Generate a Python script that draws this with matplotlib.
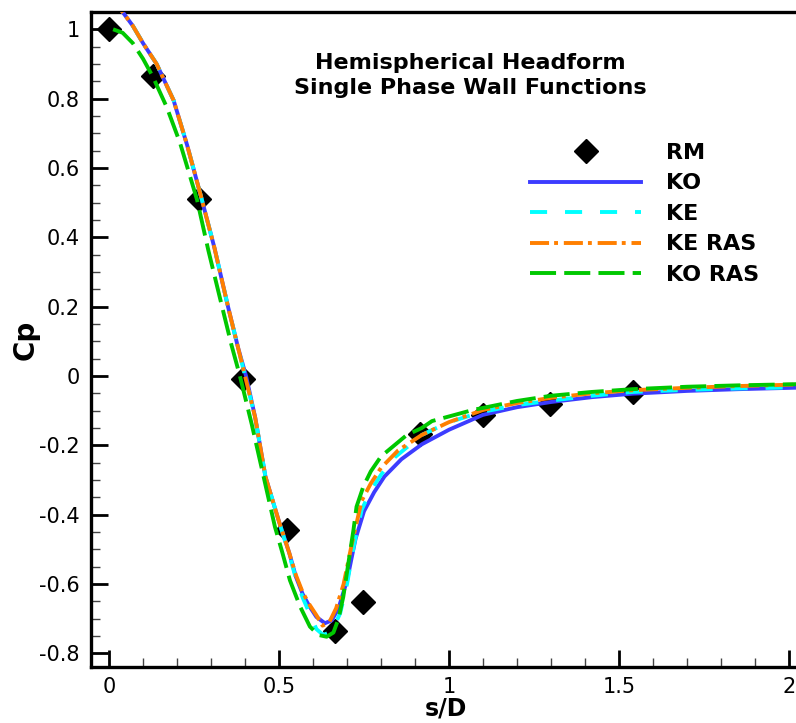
import matplotlib
matplotlib.use("Agg")
import matplotlib.pyplot as plt
from matplotlib.ticker import MultipleLocator

plt.rcParams['font.family'] = ['DejaVu Sans']

# Experimental data (RM)
rm_x = [0.0, 0.129, 0.265, 0.394, 0.524, 0.666, 0.748, 0.915, 1.101, 1.296, 1.540]
rm_cp = [1.0, 0.865, 0.51, -0.009, -0.443, -0.736, -0.651, -0.168, -0.112, -0.080, -0.047]

# KO
ko_x = [0.00, 0.02, 0.04, 0.07, 0.10, 0.14, 0.19, 0.23, 0.27, 0.31, 0.35, 0.38, 0.403, 0.43,
        0.46, 0.50, 0.53, 0.55, 0.57, 0.59, 0.61, 0.635, 0.655, 0.675, 0.70, 0.725, 0.75, 0.78,
        0.81, 0.86, 0.92, 1.00, 1.10, 1.20, 1.30, 1.42, 1.54, 1.70, 1.85, 2.05]
ko_cp = [1.09, 1.075, 1.05, 1.01, 0.96, 0.90, 0.795, 0.665, 0.52, 0.37, 0.20, 0.08, 0.0, -0.12,
         -0.29, -0.42, -0.51, -0.58, -0.63, -0.665, -0.695, -0.713, -0.705, -0.67, -0.59, -0.47,
         -0.39, -0.335, -0.29, -0.24, -0.197, -0.155, -0.112, -0.09, -0.075, -0.061, -0.051,
         -0.043, -0.038, -0.033]

# KE
ke_x = [0.00, 0.02, 0.04, 0.07, 0.10, 0.14, 0.19, 0.23, 0.27, 0.31, 0.35, 0.38, 0.40, 0.43,
        0.46, 0.50, 0.53, 0.55, 0.57, 0.59, 0.61, 0.63, 0.655, 0.68, 0.70, 0.72, 0.743, 0.77,
        0.80, 0.84, 0.92, 1.00, 1.10, 1.20, 1.30, 1.42, 1.54, 1.70, 1.85, 2.05]
ke_cp = [1.09, 1.075, 1.05, 1.01, 0.96, 0.90, 0.795, 0.665, 0.52, 0.37, 0.20, 0.08, 0.0, -0.12,
         -0.29, -0.42, -0.515, -0.585, -0.64, -0.685, -0.73, -0.747, -0.737, -0.684, -0.60,
         -0.49, -0.386, -0.33, -0.285, -0.235, -0.17, -0.133, -0.103, -0.084, -0.071, -0.057,
         -0.046, -0.040, -0.036, -0.032]

# KE RAS
keras_x = [0.00, 0.02, 0.04, 0.07, 0.10, 0.14, 0.19, 0.23, 0.27, 0.31, 0.35, 0.38, 0.40, 0.43,
           0.46, 0.50, 0.53, 0.55, 0.57, 0.59, 0.61, 0.628, 0.648, 0.668, 0.69, 0.713, 0.743,
           0.77, 0.80, 0.85, 0.92, 1.00, 1.10, 1.20, 1.30, 1.42, 1.54, 1.70, 1.85, 2.05]
keras_cp = [1.09, 1.075, 1.05, 1.01, 0.96, 0.90, 0.795, 0.665, 0.52, 0.37, 0.20, 0.08, 0.0,
            -0.12, -0.29, -0.42, -0.51, -0.575, -0.625, -0.66, -0.69, -0.72, -0.71, -0.67,
            -0.60, -0.49, -0.36, -0.31, -0.265, -0.215, -0.17, -0.133, -0.098, -0.078, -0.063,
            -0.05, -0.041, -0.034, -0.029, -0.024]

# KO RAS
koras_x = [0.012, 0.04, 0.07, 0.10, 0.129, 0.17, 0.209, 0.259, 0.292, 0.33, 0.36, 0.385, 0.42,
           0.45, 0.488, 0.51, 0.532, 0.562, 0.591, 0.616, 0.64, 0.66, 0.675, 0.689, 0.704, 0.719,
           0.728, 0.748, 0.77, 0.80, 0.876, 0.92, 0.95, 1.07, 1.20, 1.30, 1.42, 1.54, 1.70, 1.85,
           2.05]
koras_cp = [1.0, 0.99, 0.96, 0.915, 0.863, 0.775, 0.672, 0.508, 0.363, 0.21, 0.09, 0.0, -0.14,
            -0.27, -0.435, -0.51, -0.589, -0.665, -0.723, -0.747, -0.752, -0.74, -0.70, -0.637,
            -0.54, -0.444, -0.377, -0.319, -0.275, -0.232, -0.17, -0.15, -0.13, -0.098, -0.072,
            -0.057, -0.046, -0.038, -0.031, -0.027, -0.023]

labels = ["RM", "KO", "KE", "KE RAS", "KO RAS"]
title_lines = ["Hemispherical Headform", "Single Phase Wall Functions"]

W, H = 796, 723
fig = plt.figure(figsize=(W / 100, H / 100), dpi=100)
ax = fig.add_axes([91 / W, (H - 667) / H, (800 - 91) / W, (667 - 12) / H])

lw = 2.8
ax.plot(rm_x, rm_cp, linestyle='none', marker='D', markersize=12, color='black',
        label=labels[0], zorder=2)
ax.plot(ko_x, ko_cp, color='#3c3cff', lw=lw, label=labels[1], zorder=3)
ax.plot(ke_x, ke_cp, color='#00ffff', lw=lw, dashes=(4.4, 4.6), label=labels[2], zorder=3)
ax.plot(keras_x, keras_cp, color='#ff7f00', lw=lw, dashes=(4.9, 1.3, 1.0, 1.5),
        label=labels[3], zorder=3)
ax.plot(koras_x, koras_cp, color='#00c800', lw=lw, dashes=(6.7, 2.1), label=labels[4], zorder=3)

ax.set_xlim(-0.053, (800 - 109) / 340.0)
ax.set_ylim(-(667 - 376) / 346.7, (376 - 12) / 346.7)

ax.xaxis.set_minor_locator(MultipleLocator(0.1))
ax.yaxis.set_minor_locator(MultipleLocator(0.05))
ax.set_xticks([0, 0.5, 1, 1.5, 2])
ax.set_xticklabels(['0', '0.5', '1', '1.5', '2'])
ax.set_yticks([-0.8, -0.6, -0.4, -0.2, 0, 0.2, 0.4, 0.6, 0.8, 1])
ax.set_yticklabels(['-0.8', '-0.6', '-0.4', '-0.2', '0', '0.2', '0.4', '0.6', '0.8', '1'])

ax.tick_params(which='major', direction='in', length=12, width=2, labelsize=15, pad=8)
ax.tick_params(which='minor', direction='in', length=6.5, width=1, color='#444444')
ax.tick_params(axis='x', which='major', pad=7)
ax.tick_params(top=False, right=False, which='both')
for s in ax.spines.values():
    s.set_linewidth(2.4)
ax.spines['right'].set_visible(False)

ax.set_xlabel('s/D', fontsize=17, fontweight='bold', labelpad=0)
ax.set_ylabel('Cp', fontsize=20, fontweight='bold', labelpad=0)

fig.text(470 / W, 1 - 75.5 / H, "\n".join(title_lines), ha='center', va='center',
         fontsize=16, fontweight='bold', linespacing=1.3)

leg = ax.legend(loc='upper left', bbox_to_anchor=(530 / W, 1 - 143 / H),
                bbox_transform=fig.transFigure, frameon=False, borderpad=0,
                borderaxespad=0, handlelength=5.0, handletextpad=1.1, labelspacing=0.47,
                prop={'weight': 'bold', 'size': 16}, numpoints=1)

fig.savefig('out.png', dpi=100)
